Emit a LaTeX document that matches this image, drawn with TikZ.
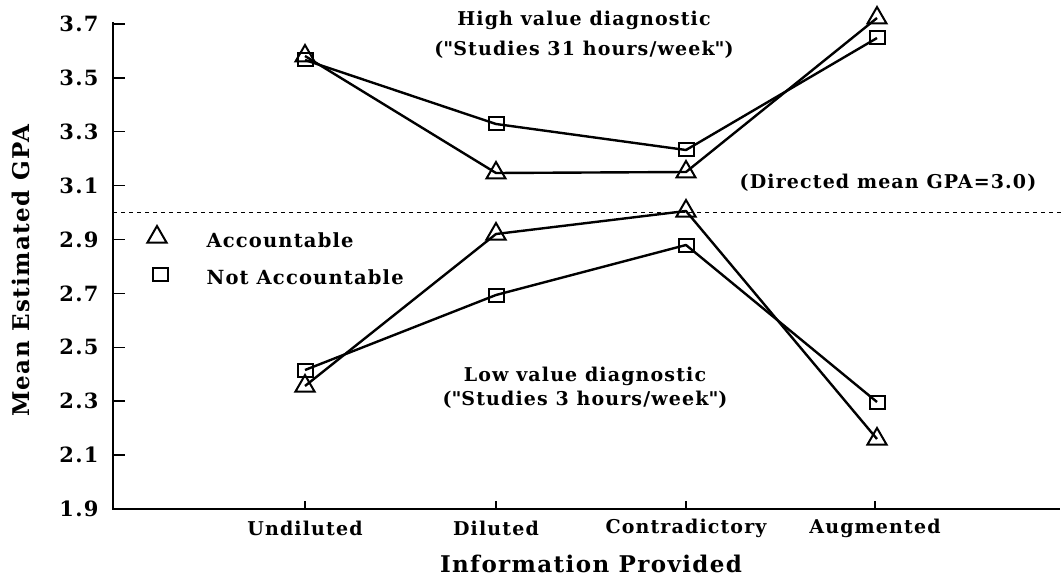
\documentclass[tikz,border=0pt]{standalone}
\usepackage{fontspec}
\setmainfont{DejaVu Serif}
\newfontfamily\spaced[LetterSpace=6]{DejaVu Serif}
\usetikzlibrary{shapes.geometric}
\begin{document}
\begin{tikzpicture}[x=1pt,y=-1pt,
  tri/.style={regular polygon, regular polygon sides=3, draw, line width=2pt, minimum size=22pt, inner sep=0pt},
  sq/.style={rectangle, draw, line width=2pt, minimum width=15pt, minimum height=13pt, inner sep=0pt},
  dline/.style={line width=2.4pt, line join=round},
  axis/.style={line width=2.4pt},
  tick/.style={line width=1.6pt},
  txt/.style={font=\spaced\fontsize{19}{25}\selectfont\bfseries, align=center},
  leg/.style={font=\spaced\fontsize{19.5}{26}\selectfont\bfseries, anchor=west},
  num/.style={font=\spaced\fontsize{21}{28}\selectfont\bfseries, anchor=east},
  ttl/.style={font=\spaced\fontsize{23}{30}\selectfont\bfseries}]
\useasboundingbox (0,0) rectangle (1062,580);
% axes
\coordinate (o) at (113,509);
\coordinate (ytop) at (113,22);
\coordinate (xend) at (1060,509);
\draw[axis] (ytop) -- (o) -- (xend);
% y ticks and labels
\foreach \i/\v/\y in {0/1.9/509,1/2.1/455.1,2/2.3/401.2,3/2.5/347.3,4/2.7/293.4,5/2.9/239.5,6/3.1/185.6,7/3.3/131.7,8/3.5/77.8,9/3.7/23.9}{
  \coordinate (yt\i) at (113,\y);
  \coordinate (ye\i) at (125,\y);
  \draw[tick] (yt\i) -- (ye\i);
  \node[num] (yl\i) at (102,\y) {\v};
}
% x ticks and labels
\foreach \n/\x/\t in {u/305/Undiluted,d/496/Diluted,c/686/Contradictory,a/875/Augmented}{
  \coordinate (xb\n) at (\x,509);
  \coordinate (xt\n) at (\x,501);
  \draw[tick] (xb\n) -- (xt\n);
  \node[txt] (xl\n) at (\x,528) {\t};
}
\node[ttl] (xtitle) at (591,564) {Information Provided};
\node[ttl, rotate=90] (ytitle) at (21,271) {Mean Estimated GPA};
% directed mean line
\coordinate (dm0) at (113,212.5);
\coordinate (dm1) at (1062,212.5);
\draw[line width=1.5pt, dash pattern=on 4pt off 4pt] (dm0) -- (dm1);
\node[txt] (dmlab) at (888,183) {(Directed mean GPA=3.0)};
% annotations
\node[txt] (hi1) at (584,20) {High value diagnostic};
\node[txt] (hi2) at (584,50) {(\textquotedbl Studies 31 hours/week\textquotedbl)};
\node[txt] (lo1) at (585,376) {Low value diagnostic};
\node[txt] (lo2) at (585,400) {(\textquotedbl Studies 3 hours/week\textquotedbl)};
% legend
\node[tri] (legtri) at (157,237) {};
\node[leg] (legA) at (203,240) {Accountable};
\node[sq] (legsq) at (160,274) {};
\node[leg] (legN) at (203,277) {Not Accountable};
% data: high, accountable
\node[tri] (ha1) at (305,56) {};
\node[tri] (ha2) at (496,173) {};
\node[tri] (ha3) at (686,172) {};
\node[tri] (ha4) at (877,18) {};
% high, not accountable
\node[sq] (hn1) at (305,60) {};
\node[sq] (hn2) at (496,124) {};
\node[sq] (hn3) at (686,150) {};
\node[sq] (hn4) at (877,38) {};
% low, accountable
\node[tri] (la1) at (305,386) {};
\node[tri] (la2) at (496,234) {};
\node[tri] (la3) at (686,211) {};
\node[tri] (la4) at (877,439) {};
% low, not accountable
\node[sq] (ln1) at (305,370) {};
\node[sq] (ln2) at (496,295) {};
\node[sq] (ln3) at (686,245) {};
\node[sq] (ln4) at (877,402) {};
\draw[dline] (ha1.center) -- (ha2.center) -- (ha3.center) -- (ha4.center);
\draw[dline] (hn1.center) -- (hn2.center) -- (hn3.center) -- (hn4.center);
\draw[dline] (la1.center) -- (la2.center) -- (la3.center) -- (la4.center);
\draw[dline] (ln1.center) -- (ln2.center) -- (ln3.center) -- (ln4.center);
\end{tikzpicture}
\end{document}
